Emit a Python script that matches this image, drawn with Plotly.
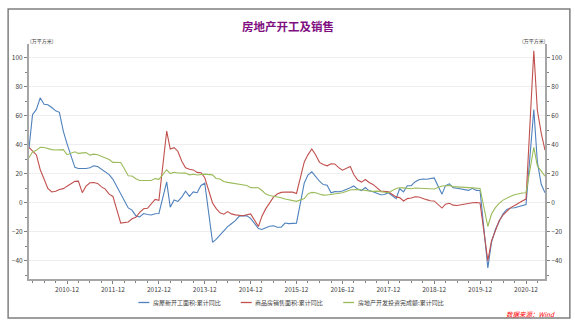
import plotly.graph_objects as go

# ---------------- data (cumulative YoY %, monthly, Feb-Dec each year) ----------------
years = list(range(2010, 2022))
last_month_2021 = 5

new_starts = [
    37.5, 60.8, 64.4, 72.4, 67.9, 67.6, 65.7, 63.4, 62.4, 49.5, 40.7,      # 2010
    24.5, 23.7, 23.5, 23.7, 24.2, 25.5, 25.0, 23.0, 21.5, 19.5, 16.2,      # 2011
    6.0, 0.5, -3.5, -5.0, -9.0, -9.7, -7.4, -8.0, -8.4, -7.5, -7.3,        # 2012
    14.5, -3.0, 2.0, 1.0, 4.0, 8.0, 4.5, 7.5, 7.0, 12.0, 13.5,             # 2013
    -27.2, -25.2, -22.3, -19.8, -16.4, -14.4, -12.3, -9.3, -8.8, -9.0, -10.7,  # 2014
    -17.7, -18.4, -17.1, -16.1, -15.8, -16.8, -16.8, -13.9, -14.3, -14.1, -14.0,  # 2015
    13.7, 19.2, 21.4, 18.2, 14.9, 12.6, 12.2, 6.9, 7.7, 7.6, 8.1,          # 2016
    10.4, 11.6, 9.5, 8.5, 10.6, 8.3, 7.6, 6.6, 5.6, 5.7, 7.0,              # 2017
    2.9, 9.7, 7.6, 11.8, 11.8, 14.4, 15.9, 16.4, 16.3, 16.8, 17.2,         # 2018
    6.0, 11.9, 13.1, 10.5, 10.1, 9.5, 8.9, 8.6, 10.0, 8.6, 8.5,            # 2019
    -44.9, -27.2, -18.4, -12.8, -7.6, -4.5, -3.6, -3.4, -2.6, -2.0, -1.2,  # 2020
    64.3, 28.2, 12.8, 6.9,                                                 # 2021
]

sales_area = [
    38.2, 36.0, 33.0, 23.0, 16.0, 10.0, 7.5, 8.0, 9.2, 9.8, 11.5,          # 2010
    14.8, 15.0, 7.0, 11.5, 13.8, 14.0, 13.4, 11.0, 9.5, 6.0, 4.4,          # 2011
    -14.0, -13.6, -13.2, -11.0, -10.0, -6.6, -4.1, -3.8, -0.9, 2.4, 1.8,   # 2012
    49.5, 37.1, 38.0, 35.6, 28.7, 24.2, 23.1, 22.7, 21.0, 20.8, 17.3,      # 2013
    -0.1, -3.8, -6.9, -7.8, -6.0, -7.6, -8.3, -8.6, -8.9, -8.2, -7.6,      # 2014
    -16.3, -9.2, -4.0, -0.2, 3.9, 6.1, 7.2, 7.5, 7.2, 7.4, 6.5,            # 2015
    28.2, 33.1, 37.1, 33.2, 27.9, 26.4, 25.5, 26.9, 26.8, 24.3, 22.5,      # 2016
    25.1, 19.5, 15.7, 14.3, 16.1, 14.0, 12.7, 10.3, 8.2, 7.9, 7.7,         # 2017
    4.1, 3.6, 1.3, 2.9, 3.3, 4.2, 4.0, 2.9, 2.2, 1.4, 1.3,                 # 2018
    -3.6, -0.9, -0.3, -1.6, -1.8, -1.3, -0.6, -0.1, 0.1, 0.2, -0.1,        # 2019
    -39.9, -26.3, -19.3, -12.3, -8.4, -5.8, -3.3, -1.8, 0.0, 1.3, 2.6,     # 2020
    104.9, 63.8, 48.1, 36.3,                                               # 2021
]

investment = [
    31.1, 35.1, 36.2, 38.2, 38.1, 37.2, 36.7, 36.4, 36.5, 36.7, 33.2,      # 2010
    35.2, 34.1, 34.3, 34.6, 32.9, 33.6, 33.2, 32.0, 31.1, 29.9, 27.9,      # 2011
    27.8, 23.5, 18.7, 18.5, 16.6, 15.4, 15.6, 15.4, 15.4, 16.7, 16.2,      # 2012
    22.8, 20.2, 21.1, 20.6, 20.3, 20.5, 19.3, 19.7, 19.2, 19.5, 19.8,      # 2013
    19.3, 16.8, 16.4, 14.7, 14.1, 13.7, 13.2, 12.5, 12.4, 11.9, 10.5,      # 2014
    10.4, 8.5, 6.0, 5.1, 4.6, 4.3, 3.5, 2.6, 2.0, 1.3, 1.0,                # 2015
    3.0, 6.2, 7.2, 7.0, 6.1, 5.3, 5.4, 5.8, 6.6, 6.5, 6.9,                 # 2016
    8.9, 9.1, 9.3, 8.8, 8.5, 7.9, 7.9, 8.1, 7.8, 7.5, 7.0,                 # 2017
    9.9, 10.4, 10.3, 10.2, 9.7, 10.2, 10.1, 9.9, 9.7, 9.7, 9.5,            # 2018
    11.6, 11.8, 11.9, 11.2, 10.9, 10.6, 10.5, 10.5, 10.3, 10.2, 9.9,       # 2019
    -16.3, -7.7, -3.3, -0.3, 1.9, 3.4, 4.6, 5.6, 6.3, 6.8, 7.0,            # 2020
    38.3, 25.6, 21.6, 18.3,                                                # 2021
]

series_names = ["房屋新开工面积:累计同比", "商品房销售面积:累计同比", "房地产开发投资完成额:累计同比"]
series_colors = ["#4f81bd", "#c0504d", "#9bbb59"]
tick_years = list(range(2010, 2021))
y_ticks = [-40, -20, 0, 20, 40, 60, 80, 100]

dates = []
for y in years:
    for m in range(2, 13):
        if y == 2021 and m > last_month_2021:
            break
        dates.append(f"{y}-{m:02d}-01")

# ---------------- figure ----------------
W, H = 575, 325
L, R, T, B = 27, 29, 44, 46
PW, PH = W - L - R, H - T - B


def px(x):
    return (x - L) / PW


def py(y):
    return (H - B - y) / PH


FONT = "Noto Sans CJK SC"
fig = go.Figure()
for name, vals, col in zip(series_names, [new_starts, sales_area, investment], series_colors):
    fig.add_trace(go.Scatter(x=dates, y=vals, mode="lines", name=name,
                             line=dict(color=col, width=1.1), showlegend=False))
# invisible copy on the right axis so it is drawn
fig.add_trace(go.Scatter(x=dates, y=investment, mode="lines", yaxis="y2",
                         line=dict(color="rgba(0,0,0,0)", width=0), showlegend=False,
                         hoverinfo="skip"))

yr = [-52.5, 109.5]
axis_common = dict(range=yr, tickvals=y_ticks, ticks="outside", ticklen=3, tickcolor="#808080",
                   tickfont=dict(size=6.5, color="#404040", family=FONT),
                   showline=True, linecolor="#a6a6a6", linewidth=2, zeroline=False,
                   minor=dict(ticks="outside", ticklen=2, dtick=10, tick0=0, tickcolor="#808080",
                              showgrid=False))

fig.update_layout(
    width=W, height=H, margin=dict(l=L, r=R, t=T, b=B),
    paper_bgcolor="white", plot_bgcolor="white",
    font=dict(family=FONT, size=7, color="#404040"),
    xaxis=dict(type="date", range=["2010-02-01", "2021-05-01"],
               tickvals=[f"{y}-12-01" for y in tick_years],
               ticktext=[f"{y}-12" for y in tick_years],
               ticks="outside", ticklen=3, tickcolor="#808080",
               tickfont=dict(size=6.5, color="#404040", family=FONT),
               showgrid=False, showline=True, linecolor="#a6a6a6", linewidth=2,
               minor=dict(ticks="outside", ticklen=2, dtick="M3", tick0="2010-03-01",
                          tickcolor="#808080", showgrid=False)),
    yaxis=dict(showgrid=True, gridcolor="#eeeeee", gridwidth=1, **axis_common),
    yaxis2=dict(overlaying="y", side="right", showgrid=False, **axis_common),
)

# outer frame
fig.add_shape(type="rect", xref="paper", yref="paper",
              x0=px(6), x1=px(571), y0=py(318), y1=py(9),
              line=dict(color="#7f7f7f", width=1.5), fillcolor="rgba(0,0,0,0)", layer="below")

# title
fig.add_annotation(xref="paper", yref="paper", x=px(287.5), y=py(26.5), text="<b>房地产开工及销售</b>",
                   showarrow=False, xanchor="center", yanchor="middle",
                   font=dict(size=11.5, color="#7f0f7f", family=FONT))
# unit labels
fig.add_annotation(xref="paper", yref="paper", x=px(26), y=py(41.5), text="(万平方米)",
                   showarrow=False, xanchor="left", yanchor="middle",
                   font=dict(size=5, color="#404040", family=FONT))
fig.add_annotation(xref="paper", yref="paper", x=px(549), y=py(41.5), text="(万平方米)",
                   showarrow=False, xanchor="right", yanchor="middle",
                   font=dict(size=5, color="#404040", family=FONT))

# legend (manual)
leg_x = [137, 240, 343]
leg_y = 302.5
for x0, name, col in zip(leg_x, series_names, series_colors):
    fig.add_shape(type="line", xref="paper", yref="paper", x0=px(x0), x1=px(x0 + 11),
                  y0=py(leg_y), y1=py(leg_y), line=dict(color=col, width=1.3))
    fig.add_annotation(xref="paper", yref="paper", x=px(x0 + 12.5), y=py(leg_y), text=name,
                       showarrow=False, xanchor="left", yanchor="middle",
                       font=dict(size=6, color="#404040", family=FONT))

# source
fig.add_annotation(xref="paper", yref="paper", x=px(558), y=py(313.5), text="<i>数据来源：Wind</i>",
                   showarrow=False, xanchor="right", yanchor="middle",
                   font=dict(size=6.5, color="#ff0000", family=FONT))

fig.write_html("out.html")
